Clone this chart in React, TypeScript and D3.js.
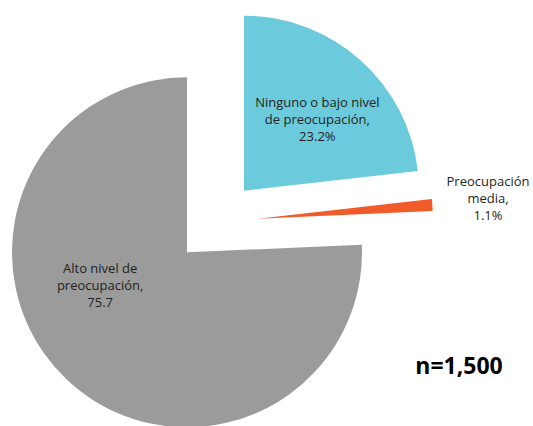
import React, { useEffect, useRef } from 'react';
import * as d3 from 'd3';

const categories = ['Ninguno o bajo nivel de preocupación', 'Preocupación media', 'Alto nivel de preocupación'];
const values = [23.2, 1.1, 75.7];
const labelLines = [
  ['Ninguno o bajo nivel', 'de preocupación,', '23.2%'],
  ['Preocupación', 'media,', '1.1%'],
  ['Alto nivel de', 'preocupación,', '75.7'],
];
const colors = ['#6bcbdc', '#f15a29', '#9b9b9b'];

// label placement: angle (deg, clockwise from 12 o'clock) and distance from slice apex
const labelAt: [number, number][] = [
  [46, 102],
  [85, 231],
  [249, 93],
];

const W = 533;
const H = 426;

const App = () => {
  const ref = useRef<SVGSVGElement | null>(null);

  useEffect(() => {
    if (!ref.current) return;
    const svg = d3.select(ref.current);
    svg.selectAll('*').remove();

    const cx = 216;
    const cy = 222;
    const radius = 175;
    const explode = 42;

    const pie = d3.pie<number>().sort(null).value(d => d);
    const arc = d3.arc<d3.PieArcDatum<number>>().innerRadius(0).outerRadius(radius);

    const g = svg.append('g').attr('transform', `translate(${cx},${cy})`);

    const slices = g.selectAll('.slice')
      .data(pie(values))
      .enter().append('g')
      .attr('class', 'slice')
      .attr('transform', d => {
        const mid = (d.startAngle + d.endAngle) / 2;
        return `translate(${Math.sin(mid) * explode},${-Math.cos(mid) * explode})`;
      });

    slices.append('path')
      .attr('d', arc)
      .attr('fill', (d, i) => colors[i])
      .append('title')
      .text((d, i) => categories[i]);

    const lh = 17;
    slices.append('text')
      .attr('transform', (d, i) => {
        const a = (labelAt[i][0] * Math.PI) / 180;
        const r = labelAt[i][1];
        return `translate(${Math.sin(a) * r},${-Math.cos(a) * r})`;
      })
      .style('font-family', '"Open Sans", "Liberation Sans", sans-serif')
      .style('font-size', '13px')
      .style('fill', '#231f20')
      .style('text-anchor', 'middle')
      .each(function (d, i) {
        const lines = labelLines[i];
        const t = d3.select(this);
        lines.forEach((line, k) => {
          t.append('tspan')
            .attr('x', 0)
            .attr('y', (k - (lines.length - 1) / 2) * lh)
            .attr('dy', '0.35em')
            .text(line);
        });
      });

    svg.append('text')
      .attr('x', 459)
      .attr('y', 366)
      .attr('dy', '0.35em')
      .style('font-family', '"Open Sans", "Liberation Sans", sans-serif')
      .style('font-size', '23px')
      .style('font-weight', 'bold')
      .style('text-anchor', 'middle')
      .style('fill', '#000')
      .text('n=1,500');
  }, []);

  return (
    <svg
      ref={ref}
      width={W}
      height={H}
      style={{ position: 'absolute', left: 0, top: 0, background: '#fff' }}
    />
  );
};

export default App;
